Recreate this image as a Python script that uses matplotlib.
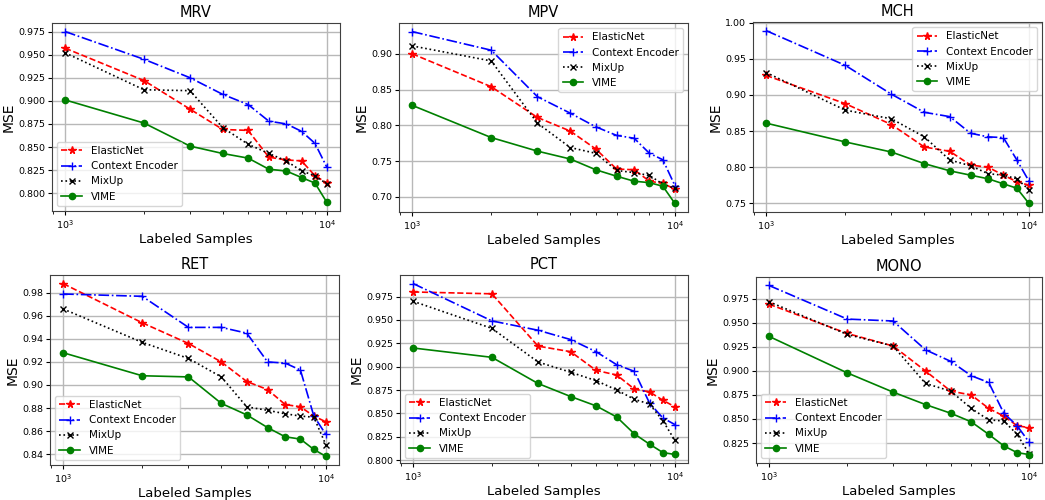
import numpy as np
import matplotlib
matplotlib.use("Agg")
import matplotlib.pyplot as plt

samples = [1000, 2000, 3000, 4000, 5000, 6000, 7000, 8000, 9000, 10000]
methods = ["ElasticNet", "Context Encoder", "MixUp", "VIME"]
titles = ["MRV", "MPV", "MCH", "RET", "PCT", "MONO"]

mrv = {
    "ElasticNet": [0.957, 0.922, 0.891, 0.869, 0.868, 0.839, 0.836, 0.835, 0.819, 0.811],
    "Context Encoder": [0.975, 0.945, 0.925, 0.907, 0.896, 0.878, 0.875, 0.867, 0.854, 0.828],
    "MixUp": [0.952, 0.912, 0.911, 0.871, 0.853, 0.843, 0.835, 0.824, 0.819, 0.810],
    "VIME": [0.901, 0.876, 0.851, 0.843, 0.838, 0.826, 0.824, 0.817, 0.811, 0.790],
}
mpv = {
    "ElasticNet": [0.900, 0.854, 0.811, 0.792, 0.767, 0.739, 0.738, 0.722, 0.719, 0.711],
    "Context Encoder": [0.931, 0.905, 0.840, 0.817, 0.798, 0.786, 0.782, 0.761, 0.752, 0.716],
    "MixUp": [0.911, 0.890, 0.803, 0.769, 0.761, 0.737, 0.734, 0.730, 0.718, 0.712],
    "VIME": [0.828, 0.783, 0.764, 0.753, 0.738, 0.729, 0.722, 0.720, 0.715, 0.691],
}
mch = {
    "ElasticNet": [0.927, 0.888, 0.859, 0.828, 0.822, 0.803, 0.800, 0.789, 0.780, 0.775],
    "Context Encoder": [0.989, 0.941, 0.901, 0.876, 0.870, 0.847, 0.842, 0.841, 0.810, 0.781],
    "MixUp": [0.931, 0.879, 0.867, 0.842, 0.810, 0.802, 0.791, 0.789, 0.784, 0.769],
    "VIME": [0.861, 0.835, 0.821, 0.805, 0.795, 0.789, 0.784, 0.777, 0.771, 0.750],
}
ret = {
    "ElasticNet": [0.988, 0.954, 0.936, 0.920, 0.903, 0.896, 0.883, 0.881, 0.873, 0.868],
    "Context Encoder": [0.979, 0.977, 0.950, 0.950, 0.945, 0.920, 0.919, 0.913, 0.873, 0.857],
    "MixUp": [0.966, 0.937, 0.923, 0.907, 0.881, 0.878, 0.875, 0.873, 0.872, 0.848],
    "VIME": [0.928, 0.908, 0.907, 0.884, 0.874, 0.863, 0.855, 0.853, 0.844, 0.838],
}
pct = {
    "ElasticNet": [0.980, 0.978, 0.922, 0.916, 0.896, 0.891, 0.876, 0.873, 0.864, 0.857],
    "Context Encoder": [0.989, 0.949, 0.939, 0.929, 0.916, 0.902, 0.895, 0.861, 0.845, 0.838],
    "MixUp": [0.970, 0.941, 0.905, 0.894, 0.885, 0.875, 0.865, 0.860, 0.842, 0.821],
    "VIME": [0.920, 0.910, 0.882, 0.868, 0.858, 0.846, 0.828, 0.817, 0.808, 0.806],
}
mono = {
    "ElasticNet": [0.9695, 0.939, 0.926, 0.900, 0.879, 0.875, 0.861, 0.853, 0.843, 0.841],
    "Context Encoder": [0.989, 0.954, 0.952, 0.922, 0.910, 0.895, 0.888, 0.856, 0.843, 0.826],
    "MixUp": [0.972, 0.938, 0.926, 0.887, 0.879, 0.861, 0.849, 0.848, 0.834, 0.814],
    "VIME": [0.936, 0.898, 0.878, 0.865, 0.856, 0.847, 0.834, 0.822, 0.815, 0.813],
}
panels = [mrv, mpv, mch, ret, pct, mono]
legend_loc = ["lower left", "upper right", "upper right",
              "lower left", "lower left", "lower left"]

styles = {
    "ElasticNet": dict(color="r", ls="--", marker="*", ms=5.5),
    "Context Encoder": dict(color="b", ls="-.", marker="+", ms=6),
    "MixUp": dict(color="k", ls=":", marker="x", ms=4.5),
    "VIME": dict(color="g", ls="-", marker="o", ms=4.5),
}

# axes rectangles in pixels: left, top, right, bottom
W, H = 1045, 500
rects = [(52, 23, 340, 211), (399, 23, 688, 212), (753, 22, 1042, 212),
         (50, 275, 339, 465), (400, 275, 688, 463), (756, 277, 1042, 463)]

fig = plt.figure(figsize=(W / 100, H / 100), dpi=100)
for i, (data, title) in enumerate(zip(panels, titles)):
    l, t, r, b = rects[i]
    ax = fig.add_axes([l / W, 1 - b / H, (r - l) / W, (b - t) / H])
    for m in methods:
        ax.plot(samples, data[m], label=m, lw=1.2, **styles[m])
    ax.set_xscale("log")
    ax.grid(True, color="#b8b8b8", lw=1.0)
    ax.set_title(title, fontsize=10.5, pad=4)
    ax.set_xlabel("Labeled Samples", fontsize=9.5, labelpad=2)
    ax.set_ylabel("MSE", fontsize=10, labelpad=2)
    ax.tick_params(labelsize=6.8, length=3, pad=2)
    ax.tick_params(which="minor", length=2)
    for s in ax.spines.values():
        s.set_color("0.25")
    ax.legend(loc=legend_loc[i], fontsize=7.5)

fig.savefig("out.png", dpi=100)
